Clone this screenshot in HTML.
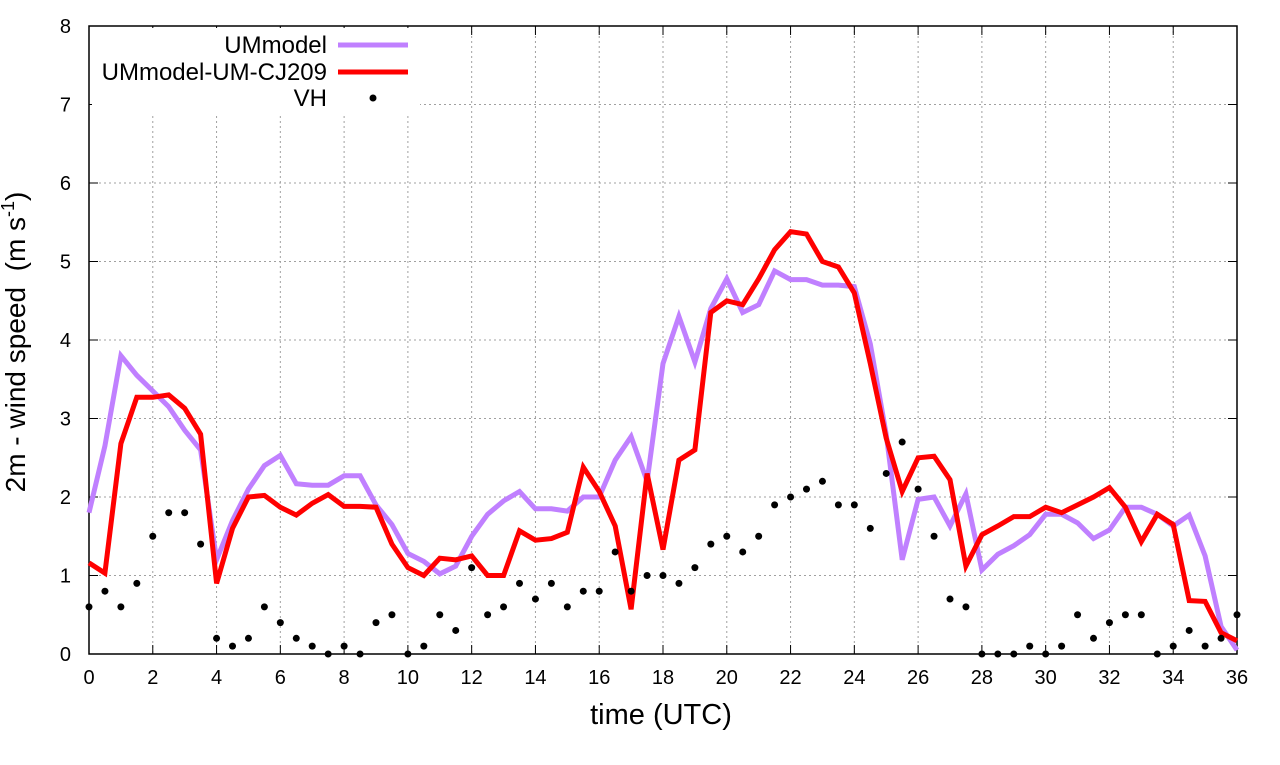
<!DOCTYPE html>
<html><head><meta charset="utf-8"><style>
body{margin:0;background:#fff}
svg text{font-family:"Liberation Sans",sans-serif;fill:#000;white-space:pre}
</style></head><body>
<svg id="chart" width="1280" height="760" xmlns="http://www.w3.org/2000/svg">
<g id="grid"></g>
<g id="axes"></g>
<g id="series"></g>
<rect x="92" y="28" width="328" height="88" fill="#fff"/>
<g>
<text x="327" y="53" font-size="24" text-anchor="end">UMmodel</text>
<line x1="338" y1="45" x2="408" y2="45" stroke="#c080ff" stroke-width="5"/>
<text x="327" y="80" font-size="24" text-anchor="end">UMmodel-UM-CJ209</text>
<line x1="338" y1="72" x2="408" y2="72" stroke="#ff0000" stroke-width="5"/>
<text x="327" y="106" font-size="24" text-anchor="end">VH</text>
<circle cx="373" cy="98" r="3.5" fill="#000"/>
</g>
<text x="661" y="724" font-size="29" text-anchor="middle">time (UTC)</text>
<text transform="translate(25,342) rotate(-90)" font-size="28" text-anchor="middle">2m - wind speed  (m s<tspan dy="-11" font-size="18">-1</tspan><tspan dy="11">)</tspan></text>
</svg>
<script>
const xTicks=[0,2,4,6,8,10,12,14,16,18,20,22,24,26,28,30,32,34,36];
const yTicks=[0,1,2,3,4,5,6,7,8];
const times=[];for(let i=0;i<=72;i++)times.push(i/2);
const umModel=[1.8,2.65,3.8,3.55,3.35,3.15,2.85,2.6,1.2,1.7,2.1,2.4,2.53,2.17,2.15,2.15,2.27,2.27,1.9,1.65,1.28,1.18,1.02,1.12,1.5,1.78,1.95,2.07,1.85,1.85,1.82,2.0,2.0,2.47,2.77,2.2,3.7,4.3,3.72,4.4,4.78,4.35,4.45,4.88,4.77,4.77,4.7,4.7,4.68,3.95,2.8,1.2,1.97,2.0,1.63,2.04,1.07,1.27,1.38,1.52,1.78,1.78,1.67,1.47,1.58,1.87,1.87,1.78,1.63,1.77,1.25,0.35,0.05];
const umCJ209=[1.16,1.03,2.68,3.27,3.27,3.3,3.13,2.8,0.9,1.6,2.0,2.02,1.87,1.77,1.92,2.03,1.88,1.88,1.87,1.4,1.1,1.0,1.22,1.2,1.25,1.0,1.0,1.57,1.45,1.47,1.55,2.38,2.07,1.63,0.57,2.3,1.33,2.47,2.6,4.35,4.5,4.45,4.78,5.15,5.38,5.35,5.0,4.93,4.6,3.7,2.75,2.07,2.5,2.52,2.22,1.12,1.52,1.63,1.75,1.75,1.87,1.8,1.9,2.0,2.12,1.87,1.43,1.78,1.65,0.68,0.67,0.27,0.17];
const vh=[0.6,0.8,0.6,0.9,1.5,1.8,1.8,1.4,0.2,0.1,0.2,0.6,0.4,0.2,0.1,0,0.1,0,0.4,0.5,0,0.1,0.5,0.3,1.1,0.5,0.6,0.9,0.7,0.9,0.6,0.8,0.8,1.3,0.8,1.0,1.0,0.9,1.1,1.4,1.5,1.3,1.5,1.9,2.0,2.1,2.2,1.9,1.9,1.6,2.3,2.7,2.1,1.5,0.7,0.6,0,0,0,0.1,0,0.1,0.5,0.2,0.4,0.5,0.5,0,0.1,0.3,0.1,0.2,0.5];
const X0=89,X1=1237,Y0=654,Y1=26;
const xs=v=>X0+(v/36)*(X1-X0), ys=v=>Y0-(v/8)*(Y0-Y1);
const NS="http://www.w3.org/2000/svg";
function mk(t,a,p){const e=document.createElementNS(NS,t);for(const k in a)e.setAttribute(k,a[k]);p.appendChild(e);return e;}
const grid=document.getElementById('grid'),axes=document.getElementById('axes'),ser=document.getElementById('series');
xTicks.forEach(t=>{const x=xs(t);
 if(t>0&&t<36){const g=mk('line',{x1:x,y1:Y1,x2:x,y2:Y0,stroke:'#a0a0a0','stroke-dasharray':'2,3','stroke-width':1},grid);
 
 }
 const tk=mk('line',{x1:x,y1:Y0,x2:x,y2:Y0-9,stroke:'#000'},axes);
 
 
 const tk2=mk('line',{x1:x,y1:Y1,x2:x,y2:Y1+9,stroke:'#000'},axes);
 
 
 const l=mk('text',{x:x,y:Y0+30,'font-size':20,'text-anchor':'middle'},axes);l.textContent=t;
 
 });
yTicks.forEach(t=>{const y=ys(t);
 if(t>0&&t<8){const g=mk('line',{x1:X0,y1:y,x2:X1,y2:y,stroke:'#a0a0a0','stroke-dasharray':'2,3','stroke-width':1},grid);
 
 }
 const tk=mk('line',{x1:X0,y1:y,x2:X0+9,y2:y,stroke:'#000'},axes);
 
 
 const tk2=mk('line',{x1:X1,y1:y,x2:X1-9,y2:y,stroke:'#000'},axes);
 
 
 const l=mk('text',{x:X0-18,y:y+7,'font-size':20,'text-anchor':'end'},axes);l.textContent=t;
 
 });
const fr=mk('rect',{x:X0,y:Y1,width:X1-X0,height:Y0-Y1,fill:'none',stroke:'#000','stroke-width':1.5},axes);


function line(arr,col,name){const d=arr.map((v,i)=>(i?'L':'M')+xs(times[i]).toFixed(1)+','+ys(v).toFixed(1)).join('');
 const p=mk('path',{d:d,fill:'none',stroke:col,'stroke-width':5,'stroke-linejoin':'miter'},ser);
 
 }
line(umModel,'#c080ff','ummodel-line');
line(umCJ209,'#ff0000','cj209-line');
vh.forEach((v,i)=>{const c=mk('circle',{cx:xs(times[i]),cy:ys(v),r:3.5,fill:'#000'},ser);
 
 });
</script>
</body></html>
